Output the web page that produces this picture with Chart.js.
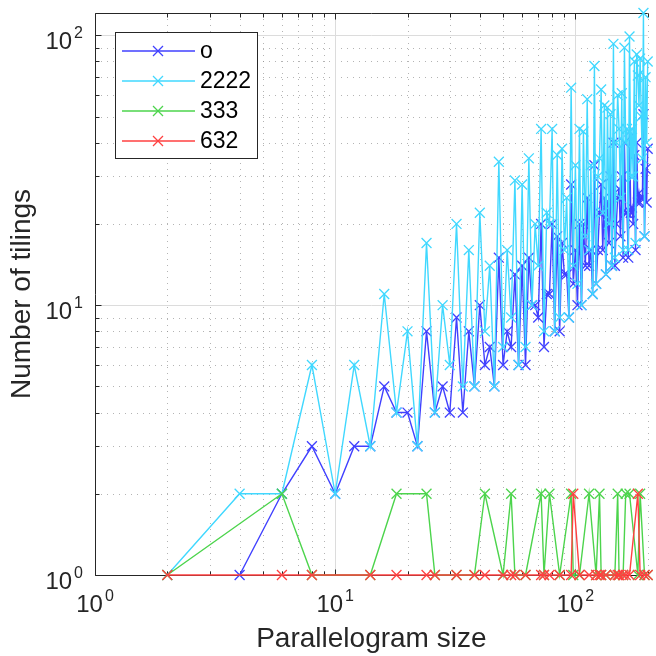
<!DOCTYPE html>
<html>
<head>
<meta charset="utf-8">
<script src="https://cdn.jsdelivr.net/npm/chart.js@4.4.1/dist/chart.umd.min.js"></script>
<style>
  html, body { margin: 0; padding: 0; background: #fff; }
  canvas { display: block; }
</style>
</head>
<body>
<canvas id="chart" width="656" height="656"></canvas>
<script>
// parallelogram sizes (even sizes, all lattices)
const sizes = [
  2, 4, 6, 8, 10, 12, 14, 16, 18, 20,
  22, 24, 26, 28, 30, 32, 34, 36, 38, 40,
  42, 44, 46, 48, 50, 52, 54, 56, 58, 60,
  62, 64, 66, 68, 70, 72, 74, 76, 78, 80,
  82, 84, 86, 88, 90, 92, 94, 96, 98, 100,
  102, 104, 106, 108, 110, 112, 114, 116, 118, 120,
  122, 124, 126, 128, 130, 132, 134, 136, 138, 140,
  142, 144, 146, 148, 150, 152, 154, 156, 158, 160,
  162, 164, 166, 168, 170, 172, 174, 176, 178, 180,
  182, 184, 186, 188, 190, 192, 194, 196, 198, 200
];

// "o" tilings (blue)
const countO = [
  null, 1, 2, 3, 2, 3, 3, 5, 4, 4,
  3, 8, 4, 5, 4, 9, 4, 8, 5, 10,
  6, 7, 5, 15, 6, 8, 7, 13, 6, 14,
  6, 15, 10, 10, 9, 20, 7, 11, 11, 20,
  8, 18, 8, 17, 13, 13, 9, 28, 12, 16,
  10, 20, 10, 20, 14, 25, 14, 16, 11, 33,
  12, 16, 22, 28, 16, 25, 13, 24, 17, 30,
  14, 40, 14, 20, 25, 27, 18, 30, 15, 40,
  22, 22, 15, 44, 22, 23, 20, 36, 16, 40,
  24, 26, 24, 25, 25, 51, 18, 32, 24, 38
];

// "2222" tilings (cyan)
const count2222 = [
  1, 2, 2, 6, 2, 6, 3, 11, 4, 8,
  3, 17, 4, 10, 6, 20, 5, 16, 5, 22,
  8, 14, 5, 34, 7, 16, 9, 29, 6, 28,
  7, 35, 10, 20, 14, 45, 8, 22, 20, 45,
  8, 36, 9, 38, 16, 25, 9, 64, 14, 33,
  12, 45, 10, 44, 18, 58, 16, 33, 11, 77,
  12, 30, 35, 63, 22, 55, 13, 54, 20, 51,
  14, 93, 15, 40, 60, 45, 25, 61, 16, 90,
  40, 45, 16, 99, 30, 45, 30, 80, 17, 85,
  71, 55, 82, 50, 35, 121, 18, 70, 40, 80
];

// sizes of the hexagonal lattices
const hexSizes = [
  2, 6, 8, 14, 18, 24, 26, 32, 38, 42,
  50, 54, 56, 62, 72, 74, 78, 86, 96, 98,
  104, 114, 122, 126, 128, 134, 146, 150, 152, 158,
  162, 168, 182, 186, 194, 200
];

// "333" tilings (green)
const count333 = [
  1, 2, 1, 1, 2, 2, 1, 1, 1, 2,
  1, 2, 1, 1, 2, 1, 2, 1, 2, 1,
  1, 2, 1, 2, 1, 1, 1, 2, 1, 1,
  2, 2, 1, 2, 1, 1
];

// "632" tilings (red)
const count632 = [
  1, 1, 1, 1, 1, 1, 1, 1, 1, 1,
  1, 1, 1, 1, 1, 1, 1, 1, 1, 2,
  1, 1, 1, 1, 1, 1, 1, 1, 1, 1,
  1, 1, 2, 1, 1, 1
];

const seriesNames = ['o', '2222', '333', '632'];
const seriesColors = ['#4040ff', '#40d8ff', '#4cd44c', '#ff4040'];

const xTickExps = [0, 1, 2];
const yTickExps = [0, 1, 2];

const FONT = '"Liberation Sans", Arial, Helvetica, sans-serif';
const AXIS_COLOR = '#262626';

function points(xs, ys) {
  return xs.map((x, i) => ({ x: x, y: ys[i] }));
}

function makeSet(i, xs, ys, order) {
  return {
    label: seriesNames[i],
    data: points(xs, ys),
    borderColor: seriesColors[i],
    backgroundColor: seriesColors[i],
    borderWidth: 1.4,
    pointStyle: 'crossRot',
    pointRadius: 7,
    pointBorderWidth: 1.3,
    pointHoverRadius: 7,
    tension: 0,
    fill: false,
    clip: false,
    order: order
  };
}

function eachGridValue(scale, cb) {
  const lo = Math.floor(Math.log10(scale.min));
  const hi = Math.ceil(Math.log10(scale.max));
  for (let d = lo; d <= hi; d++) {
    for (let m = 1; m <= 9; m++) {
      const v = m * Math.pow(10, d);
      if (v < scale.min - 1e-9 || v > scale.max + 1e-9) continue;
      cb(v, m === 1);
    }
  }
}

function seg(ctx, x1, y1, x2, y2) {
  ctx.beginPath();
  ctx.moveTo(x1, y1);
  ctx.lineTo(x2, y2);
  ctx.stroke();
}

function drawPow(ctx, exp, left, base) {
  ctx.font = '24px ' + FONT;
  ctx.fillText('10', left, base);
  const w = ctx.measureText('10').width;
  ctx.font = '16px ' + FONT;
  ctx.fillText(String(exp), left + w + 2, base - 11);
}

function powWidth(ctx, exp) {
  ctx.font = '24px ' + FONT;
  const w = ctx.measureText('10').width;
  ctx.font = '16px ' + FONT;
  return w + 2 + ctx.measureText(String(exp)).width;
}

// MATLAB style box, grid, inward ticks, tick labels and legend
const matlabAxes = {
  id: 'matlabAxes',
  beforeDatasetsDraw(chart) {
    const { ctx, chartArea: a, scales: { x, y } } = chart;
    ctx.save();
    ctx.lineWidth = 1;

    // minor grid (dotted)
    ctx.strokeStyle = 'rgba(140,140,140,0.65)';
    ctx.setLineDash([1, 5]);
    eachGridValue(x, (v, major) => {
      if (major) return;
      const px = Math.round(x.getPixelForValue(v)) + 0.5;
      seg(ctx, px, a.top, px, a.bottom);
    });
    eachGridValue(y, (v, major) => {
      if (major) return;
      const py = Math.round(y.getPixelForValue(v)) + 0.5;
      seg(ctx, a.left, py, a.right, py);
    });

    // major grid
    ctx.setLineDash([]);
    ctx.strokeStyle = '#dcdcdc';
    eachGridValue(x, (v, major) => {
      if (!major) return;
      const px = Math.round(x.getPixelForValue(v)) + 0.5;
      seg(ctx, px, a.top, px, a.bottom);
    });
    eachGridValue(y, (v, major) => {
      if (!major) return;
      const py = Math.round(y.getPixelForValue(v)) + 0.5;
      seg(ctx, a.left, py, a.right, py);
    });

    // box lines
    ctx.strokeStyle = AXIS_COLOR;
    const L = Math.round(a.left) + 0.5, B = Math.round(a.bottom) + 0.5, T = Math.round(a.top) + 0.5;
    seg(ctx, L, T, L, B);
    seg(ctx, L, B, a.right, B);
    seg(ctx, L, T, a.right, T);

    // inward ticks
    eachGridValue(x, (v, major) => {
      const px = Math.round(x.getPixelForValue(v)) + 0.5;
      const len = major ? 6 : 4;
      seg(ctx, px, B, px, B - len);
      seg(ctx, px, T, px, T + len);
    });
    eachGridValue(y, (v, major) => {
      const py = Math.round(y.getPixelForValue(v)) + 0.5;
      const len = major ? 6 : 4;
      seg(ctx, L, py, L + len, py);
    });
    ctx.restore();
  },
  afterDraw(chart) {
    const { ctx, chartArea: a, scales: { x, y } } = chart;
    ctx.save();
    ctx.fillStyle = AXIS_COLOR;
    ctx.textAlign = 'left';
    ctx.textBaseline = 'alphabetic';

    xTickExps.forEach(e => {
      const px = x.getPixelForValue(Math.pow(10, e));
      const w = powWidth(ctx, e);
      drawPow(ctx, e, px - w / 2, a.bottom + 37);
    });
    yTickExps.forEach(e => {
      const py = y.getPixelForValue(Math.pow(10, e));
      const w = powWidth(ctx, e);
      drawPow(ctx, e, a.left - 12 - w, py + 14);
    });

    // legend
    const lx = a.left + 20, ly = a.top + 19, lw = 142, rowH = 30;
    const lh = seriesNames.length * rowH + 6;
    ctx.fillStyle = '#ffffff';
    ctx.fillRect(lx, ly, lw, lh);
    ctx.strokeStyle = AXIS_COLOR;
    ctx.lineWidth = 1;
    ctx.strokeRect(Math.round(lx) + 0.5, Math.round(ly) + 0.5, lw, lh);

    chart.data.datasets.forEach((ds, i) => {
      const ry = ly + 19 + i * rowH;
      ctx.strokeStyle = ds.borderColor;
      ctx.lineWidth = 1.4;
      seg(ctx, lx + 7, ry, lx + 80, ry);
      const mx = lx + 43, r = 5;
      ctx.lineWidth = 1.3;
      seg(ctx, mx - r, ry - r, mx + r, ry + r);
      seg(ctx, mx - r, ry + r, mx + r, ry - r);
      ctx.fillStyle = '#000';
      ctx.font = '23px ' + FONT;
      ctx.textBaseline = 'middle';
      ctx.fillText(ds.label, lx + 85, ry + 1);
    });
    ctx.restore();
  }
};

const titleFont = { family: FONT, size: 28 };

new Chart(document.getElementById('chart'), {
  type: 'line',
  data: {
    datasets: [
      makeSet(0, sizes, countO, 4),
      makeSet(1, sizes, count2222, 3),
      makeSet(2, hexSizes, count333, 2),
      makeSet(3, hexSizes, count632, 1)
    ]
  },
  options: {
    responsive: false,
    animation: false,
    events: [],
    layout: { padding: { left: 0, top: 13, right: 0, bottom: 0 } },
    plugins: { legend: { display: false }, tooltip: { enabled: false } },
    scales: {
      x: {
        type: 'logarithmic',
        min: 1,
        max: 200,
        grid: { display: false, drawTicks: false },
        border: { display: false },
        ticks: { display: false },
        title: {
          display: true, text: 'Parallelogram size', color: AXIS_COLOR,
          font: titleFont, padding: { top: 47.4, bottom: 0 }
        }
      },
      y: {
        type: 'logarithmic',
        min: 1,
        max: 121,
        grid: { display: false, drawTicks: false },
        border: { display: false },
        ticks: { display: false },
        title: {
          display: true, text: 'Number of tilings', color: AXIS_COLOR,
          font: titleFont, padding: { top: 5.2, bottom: 56.2 }
        }
      }
    }
  },
  plugins: [matlabAxes]
});
</script>
</body>
</html>
